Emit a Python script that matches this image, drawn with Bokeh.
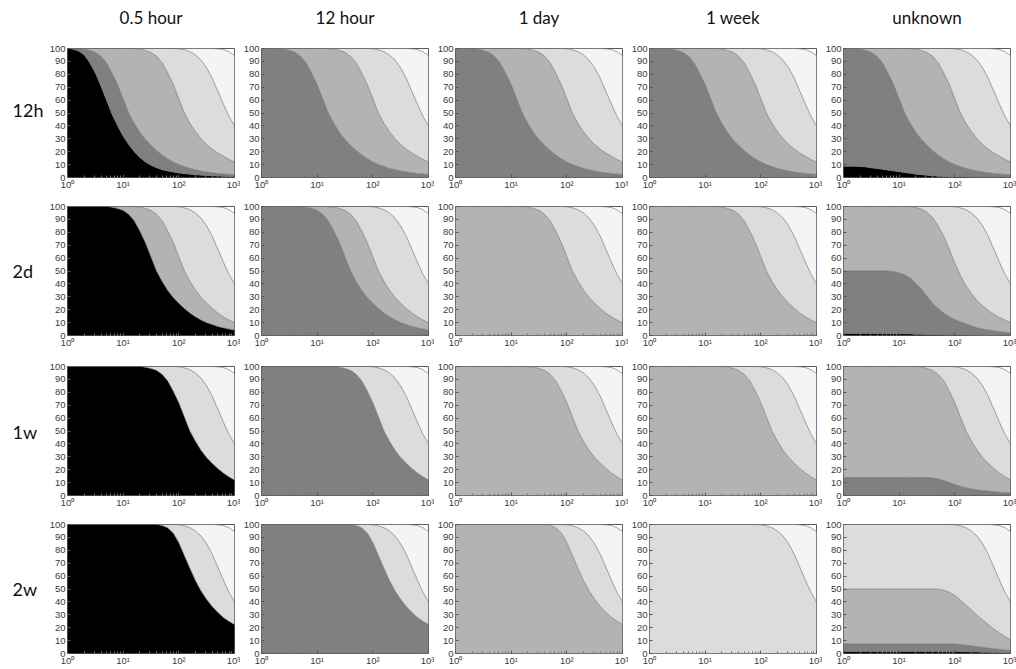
from bokeh.plotting import figure
from bokeh.layouts import column, row
from bokeh.models import FixedTicker
from bokeh.core.properties import value
from bokeh.embed import file_html
from bokeh.resources import INLINE

# ---------------- data ----------------
COL_TITLES = ["0.5 hour", "12 hour", "1 day", "1 week", "unknown"]
ROW_LABELS = ["12h", "2d", "1w", "2w"]
X_TICKS = [1, 10, 100, 1000]
X_TICK_LABELS = ["10\u2070", "10\u00b9", "10\u00b2", "10\u00b3"]
Y_TICKS = [0, 10, 20, 30, 40, 50, 60, 70, 80, 90, 100]

# sample positions (log10 of x) at which the curves were read
SAMPLE_LOG10 = [0.0, 0.1, 0.2, 0.3, 0.4, 0.5, 0.6, 0.7, 0.8, 0.9, 1.0,
                1.1, 1.2, 1.3, 1.4, 1.5, 1.6, 1.7, 1.8, 1.9, 2.0,
                2.1, 2.2, 2.3, 2.4, 2.5, 2.6, 2.7, 2.8, 2.9, 3.0]

# cumulative boundary curves (percent)
A_12H = [100, 99.5, 98, 95, 89, 81, 71, 60, 49, 40, 32, 25.5, 20, 15.5, 12, 9.5,
         7.5, 6, 5, 4.2, 3.5, 3, 2.5, 2.1, 1.8, 1.5, 1.3, 1.1, 0.9, 0.8, 0.7]
X1_12H = [100, 100, 100, 99.5, 98.5, 97, 94, 89, 81, 72, 61, 50, 42, 35, 29.5, 25,
          21, 17.5, 14.5, 12, 10, 8.5, 7, 6, 5, 4.2, 3.6, 3.1, 2.7, 2.4, 2.1]
X2_12H = [100, 100, 100, 100, 99.5, 98.5, 97, 94, 89, 81, 72, 61, 50, 42, 35, 29.5,
          25, 21, 17.5, 14.5, 12, 10, 8.5, 7, 6, 5, 4.2, 3.6, 3.1, 2.7, 2.4]
C1_12H = [100, 100, 100, 100, 100, 100, 100, 100, 100, 100, 100, 100, 100, 99.5, 98.5, 97,
          94, 89, 81, 72, 61, 50, 42, 35.5, 30, 25.5, 22, 19, 16.5, 14, 12]
K_UNK_12H = [8.8, 8.8, 8.7, 8.5, 8.1, 7.5, 6.9, 6.3, 5.7, 5.1, 4.5, 3.8, 3.2, 2.6, 2.1, 1.7,
             1.3, 1.0, 0.8, 0.6, 0.5, 0.4, 0.3, 0.25, 0.2, 0.15, 0.1, 0.1, 0.1, 0.1, 0.1]

R_2D = [100, 100, 100, 100, 100, 100, 100, 100, 99.5, 98.5, 97, 94, 89, 81, 72, 61,
        50, 42, 35, 29.5, 25, 21, 17.5, 14.5, 12, 10, 8.5, 7, 6, 5, 4.2]
C_2D = [100, 100, 100, 100, 100, 100, 100, 100, 100, 100, 100, 100, 100, 99.5, 98.5, 97,
        94, 89, 81, 72, 61, 50, 42, 35, 29.5, 25, 21, 17.5, 14.5, 12, 10]
K_UNK_2D = [1.5, 1.5, 1.5, 1.5, 1.5, 1.5, 1.5, 1.5, 1.5, 1.45, 1.4, 1.3, 1.2, 1.05, 0.9, 0.75,
            0.6, 0.45, 0.35, 0.25, 0.2, 0.15, 0.1, 0.08, 0.05, 0.05, 0.05, 0.05, 0.05, 0.05, 0.05]
H_UNK_2D = [50, 50, 50, 50, 50, 50, 50, 50, 50, 49.5, 48.5, 47, 44.5, 40.5, 36, 30.5,
            25, 21, 17.5, 14.5, 12.5, 10.5, 9, 7.5, 6, 5, 4.3, 3.6, 3, 2.5, 2.1]
C_UNK_2D = [100, 100, 100, 100, 100, 100, 100, 100, 100, 100, 100, 100, 100, 99.2, 98, 95.5,
            91.5, 85, 77, 67, 56, 46.5, 38.5, 32.5, 27, 23, 19.5, 16.5, 14, 12, 10]

C_1W = [100, 100, 100, 100, 100, 100, 100, 100, 100, 100, 100, 100, 100, 100, 99.5, 98.5,
        97, 94, 89, 81, 72, 61, 50, 42, 35, 29.5, 25, 21, 17.5, 14.5, 12]
H_UNK_1W = [14, 14, 14, 14, 14, 14, 14, 14, 14, 14, 14, 14, 14, 14, 14, 14,
            13.6, 12.8, 11.6, 10, 8.5, 7.2, 6, 5.1, 4.4, 3.9, 3.4, 3.0, 2.6, 2.3, 2.0]

F_2W = [100, 100, 100, 100, 100, 100, 100, 100, 100, 100, 100, 100, 100, 100, 100, 100,
        100, 99.3, 97.5, 93.5, 86, 76, 66, 56.5, 48.5, 42, 36.5, 32, 28, 25, 22.5]
K_UNK_2W = [1.5, 1.5, 1.5, 1.5, 1.5, 1.5, 1.5, 1.5, 1.5, 1.5, 1.5, 1.5, 1.5, 1.5, 1.5, 1.5,
            1.5, 1.5, 1.5, 1.5, 1.5, 1.4, 1.3, 1.2, 1.1, 1.0, 0.9, 0.8, 0.7, 0.6, 0.5]
H_UNK_2W = [7.5, 7.5, 7.5, 7.5, 7.5, 7.5, 7.5, 7.5, 7.5, 7.5, 7.5, 7.5, 7.5, 7.5, 7.5, 7.5,
            7.5, 7.5, 7.5, 7.5, 7.3, 6.9, 6.4, 5.9, 5.3, 4.8, 4.2, 3.7, 3.2, 2.8, 2.4]
M_UNK_2W = [50, 50, 50, 50, 50, 50, 50, 50, 50, 50, 50, 50, 50, 50, 50, 50,
            50, 49.8, 49, 47.5, 45, 41.5, 37.5, 33.5, 29.5, 26, 22.5, 19, 16, 13, 10.5]

D_ALL = [100, 100, 100, 100, 100, 100, 100, 100, 100, 100, 100, 100, 100, 100, 100, 100,
         100, 100, 100, 100, 99.8, 99, 97.5, 95, 91, 85, 77, 67, 57, 47.5, 40]
E_ALL = [100, 100, 100, 100, 100, 100, 100, 100, 100, 100, 100, 100, 100, 100, 100, 100,
         100, 100, 100, 100, 100, 100, 100, 100, 100, 100, 100, 99.8, 99.2, 97.5, 94.5]

# ---------------- styles ----------------
K, G1, G2, G3, G4 = "#000000", "#808080", "#b3b3b3", "#dcdcdc", "#f4f4f4"
TOP = [(G3, D_ALL), (G4, E_ALL)]

STACKS = {
    (0, 0): [(K, A_12H), (G1, X1_12H), (G2, C1_12H)] + TOP,
    (0, 1): [(G1, X2_12H), (G2, C1_12H)] + TOP,
    (0, 2): [(G1, X2_12H), (G2, C1_12H)] + TOP,
    (0, 3): [(G1, X2_12H), (G2, C1_12H)] + TOP,
    (0, 4): [(K, K_UNK_12H), (G1, X1_12H), (G2, C1_12H)] + TOP,
    (1, 0): [(K, R_2D), (G2, C_2D)] + TOP,
    (1, 1): [(G1, R_2D), (G2, C_2D)] + TOP,
    (1, 2): [(G2, C_2D)] + TOP,
    (1, 3): [(G2, C_2D)] + TOP,
    (1, 4): [(K, K_UNK_2D), (G1, H_UNK_2D), (G2, C_UNK_2D)] + TOP,
    (2, 0): [(K, C_1W)] + TOP,
    (2, 1): [(G1, C_1W)] + TOP,
    (2, 2): [(G2, C_1W)] + TOP,
    (2, 3): [(G2, C_1W)] + TOP,
    (2, 4): [(G1, H_UNK_1W), (G2, C_1W)] + TOP,
    (3, 0): [(K, F_2W)] + TOP,
    (3, 1): [(G1, F_2W)] + TOP,
    (3, 2): [(G2, F_2W)] + TOP,
    (3, 3): TOP,
    (3, 4): [(K, K_UNK_2W), (G1, H_UNK_2W), (G2, M_UNK_2W)] + TOP,
}

XS = [10 ** t for t in SAMPLE_LOG10]
FRAME_W, FRAME_H = 167, 130
PANEL_LEFT, PANEL_RIGHT = 21, 6
ROW_TOP = [8, 14, 16, 14]
ROW_BOTTOM = 14
LEFT_W = 46
TITLE_H = 40
TICK_FONT = "Liberation Sans"
LABEL_FONT = "Lato"


def text_box(width, height):
    p = figure(width=width, height=height, x_range=(0, width), y_range=(height, 0),
               output_backend="svg", toolbar_location=None,
               min_border_left=0, min_border_right=0,
               min_border_top=0, min_border_bottom=0)
    p.axis.visible = False
    p.grid.visible = False
    p.outline_line_color = None
    return p


def make_title(c):
    w = PANEL_LEFT + FRAME_W + PANEL_RIGHT
    p = text_box(w, TITLE_H)
    p.text(x=[PANEL_LEFT + FRAME_W / 2], y=[17], text=[COL_TITLES[c]],
           text_align="center", text_baseline="middle", text_font=value(LABEL_FONT),
           text_font_size="17px", text_color="#111111")
    return p


def make_panel(r, c):
    top = ROW_TOP[r]
    p = figure(width=PANEL_LEFT + FRAME_W + PANEL_RIGHT, height=top + FRAME_H + ROW_BOTTOM,
               x_axis_type="log", x_range=(1, 1000), y_range=(0, 100),
               output_backend="svg", toolbar_location=None,
               min_border_left=PANEL_LEFT, min_border_right=PANEL_RIGHT,
               min_border_top=top, min_border_bottom=ROW_BOTTOM)
    p.background_fill_color = "white"
    p.border_fill_color = "white"
    p.outline_line_color = "#5a5a5a"
    p.outline_line_width = 1
    p.grid.visible = False

    lower = [0] * len(XS)
    for color, upper in STACKS[(r, c)]:
        p.varea(x=XS, y1=lower, y2=upper, fill_color=color)
        lower = upper
    for color, upper in STACKS[(r, c)]:
        p.line(XS, upper, line_color="#6e6e6e", line_width=0.7, line_alpha=0.9)

    minor = [m * d for d in (1, 10, 100) for m in range(2, 10)]
    p.xaxis.ticker = FixedTicker(ticks=X_TICKS, minor_ticks=minor)
    p.xaxis.major_label_overrides = dict(zip(X_TICKS, X_TICK_LABELS))
    p.yaxis.ticker = FixedTicker(ticks=Y_TICKS)
    for ax in (p.xaxis[0], p.yaxis[0]):
        ax.axis_line_color = None
        ax.major_tick_in = 3
        ax.major_tick_out = 0
        ax.major_tick_line_color = "#555555"
        ax.minor_tick_in = 2
        ax.minor_tick_out = 0
        ax.minor_tick_line_color = "#777777"
        ax.major_label_standoff = 2
        ax.major_label_text_font = TICK_FONT
        ax.major_label_text_font_size = "9.5px"
        ax.major_label_text_color = "#3a3a3a"
    p.xaxis.major_label_standoff = 1
    p.yaxis.minor_tick_line_color = None
    return p


def make_row_label(r):
    h = ROW_TOP[r] + FRAME_H + ROW_BOTTOM
    p = text_box(LEFT_W, h)
    p.text(x=[12], y=[ROW_TOP[r] + FRAME_H / 2], text=[ROW_LABELS[r]], text_align="left",
           text_baseline="middle", text_font=value(LABEL_FONT),
           text_font_size="18px", text_color="#111111")
    return p


rows = [row(text_box(LEFT_W, TITLE_H), *[make_title(c) for c in range(5)])]
rows += [row(make_row_label(r), *[make_panel(r, c) for c in range(5)]) for r in range(4)]
layout = column(*rows)
open("out.html", "w").write(file_html(layout, INLINE))
